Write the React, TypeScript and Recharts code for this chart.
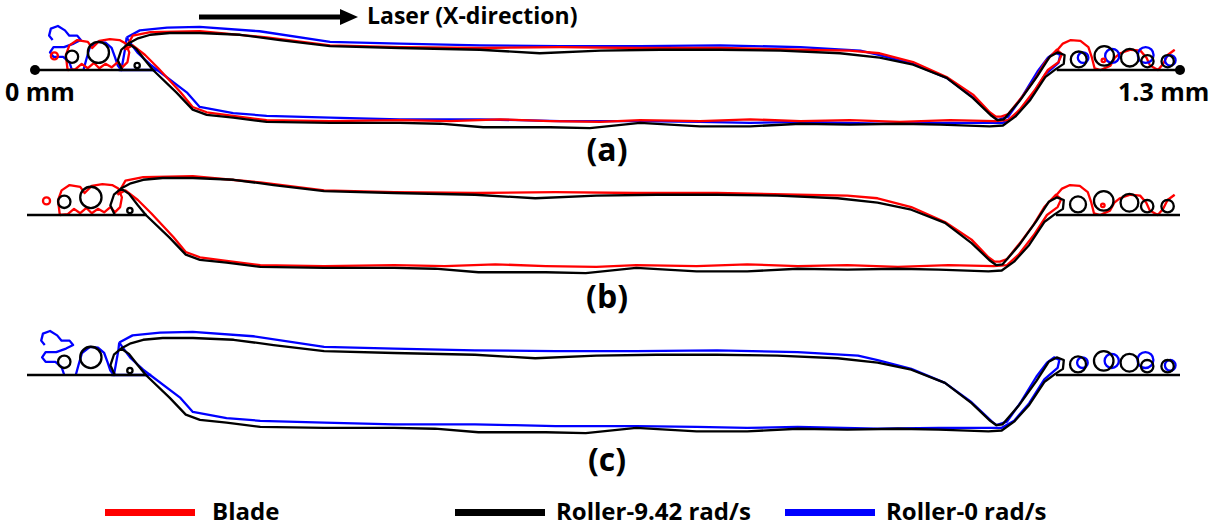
import { ComposedChart, Line, Scatter, XAxis, YAxis } from 'recharts';

// x: distance along the track in µm (0 mm .. 1.3 mm), y: height above the powder-bed surface in µm
type XY = [number, number];
type XYR = [number, number, number];

const bladeTrack: XY[] = [
  [102, 23], [111, 39], [131, 43], [187, 44], [263, 37], [335, 28], [414, 26], [505, 25], [596, 26],
  [687, 25], [778, 25], [869, 23], [925, 22], [959, 19], [997, 9], [1035, -8], [1065, -28], [1084, -48],
  [1091, -53], [1097, -53], [1105, -50], [1121, -30], [1135, -11], [1147, 9], [1160, 23], [1166, 18], [1162, 9],
  [1150, 0], [1135, -23], [1118, -45], [1105, -57], [1090, -58], [1039, -57], [982, -59], [925, -57],
  [869, -58], [812, -56], [755, -58], [687, -57], [642, -59], [585, -58], [528, -56], [471, -58],
  [414, -57], [335, -58], [263, -57], [225, -52], [195, -48], [179, -42], [165, -25], [140, 2],
  [125, 17], [111, 28], [102, 23],
];
const rollerTrack: XY[] = [
  [99, 0], [94, 11], [98, 23], [106, 30], [117, 36], [131, 40], [153, 42], [187, 42], [233, 40],
  [278, 34], [335, 27], [414, 25], [505, 23], [573, 19], [642, 22], [710, 23], [778, 23], [846, 22],
  [914, 19], [959, 14], [997, 6], [1035, -9], [1065, -32], [1086, -52], [1093, -57], [1100, -56],
  [1118, -35], [1138, -7], [1152, 15], [1161, 20], [1169, 17], [1168, 7], [1159, 1], [1147, -8],
  [1130, -34], [1113, -53], [1099, -63], [1084, -64], [1028, -62], [982, -61], [925, -62], [869, -61],
  [812, -64], [755, -64], [687, -60], [630, -66], [585, -65], [509, -65], [460, -61], [414, -60],
  [335, -60], [263, -59], [225, -54], [195, -51], [179, -45], [161, -26], [134, 0], [125, 11],
  [115, 24], [106, 30],
];
const roller0Track: XY[] = [
  [104, 37], [119, 45], [150, 48], [187, 49], [255, 44], [335, 32], [414, 30], [505, 28], [596, 27],
  [687, 27], [778, 28], [869, 26], [937, 22], [959, 17], [997, 7], [1035, -9], [1065, -31], [1088, -53],
  [1093, -57], [1105, -53], [1121, -30], [1138, -2], [1150, 14], [1158, 20], [1164, 17], [1162, 8],
  [1147, -5], [1130, -32], [1113, -52], [1099, -60], [1084, -60], [1028, -60], [959, -61], [869, -59],
  [812, -60], [755, -59], [687, -58], [596, -58], [550, -57], [505, -56], [414, -56], [335, -54],
  [263, -52], [225, -49], [187, -42], [173, -26], [131, 6], [117, 19], [108, 31], [104, 37],
];

// powder on both sides of the track
const bladePowderLeft: XY[] = [
  [37, 0], [35, 17], [39, 28], [48, 34], [60, 32], [65, 25], [73, 33], [85, 35], [96, 34], [103, 30],
  [107, 20], [105, 9], [99, 3], [94, 9], [87, 3], [80, 7], [73, 2], [67, 8], [60, 2], [53, 7], [46, 1], [37, 0],
];
const bladePowderRight: XY[] = [
  [1161, 23], [1167, 30], [1176, 34], [1187, 33], [1196, 26], [1200, 14], [1203, 2], [1210, 0],
  [1221, 5], [1226, 14], [1232, 19], [1244, 23], [1255, 22], [1262, 14], [1266, 5], [1275, 0],
  [1281, 7], [1286, 17], [1294, 23],
];
const roller0PowderLeft: XY[] = [
  [42, 0], [39, 9], [32, 15], [21, 15], [17, 20], [21, 26], [33, 26], [44, 30], [52, 34], [48, 39],
  [39, 39], [34, 45], [26, 50], [18, 47], [16, 39], [20, 34],
];
const roller0PowderMid: XY[] = [
  [55, 0], [58, 11], [62, 25], [71, 32], [80, 31], [87, 25], [91, 14], [94, 5], [98, 0], [100, 11],
  [103, 28], [104, 37],
];
const bedLeft: XY[] = [[0, 0], [135, 0]];
const bedRight: XY[] = [[1160, 0], [1300, 0]];
const roller0BedLeft: XY[] = [[95, 0], [140, 0]];

// particles: centre x, centre y, radius (µm)
const bladeParticles: XYR[] = [[22, 16, 4], [1213, 11, 2]];
const rollerParticles: XYR[] = [
  [42, 15, 7], [72, 20, 12], [116, 5, 3], [1185, 12, 9], [1214, 16, 11], [1243, 14, 10], [1263, 10, 7], [1286, 10, 7],
];
const roller0Particles: XYR[] = [[1190, 14, 6], [1223, 16, 8], [1261, 17, 9], [1289, 11, 6]];
const endMarks: XY[] = [[0, 0], [1300, 0]];

const RED = '#ff0000';
const BLACK = '#000000';
const BLUE = '#0000ff';

const W = 1225;
const H = 130;
const BED_Y = 60;
const PX_PER_UM = 1145 / 1300;
const Y_MAX = BED_Y / PX_PER_UM;
const Y_MIN = -(H - BED_Y) / PX_PER_UM;
const STROKE = 2.3;

const pts = (a: XY[]) => a.map(([x, y]) => ({ x, y }));
const rings = (a: XYR[]) => a.map(([x, y, r]) => ({ x, y, r }));

type Series = { color: string; paths: XY[][]; particles: XYR[] };
const blade: Series = { color: RED, paths: [bladeTrack, bladePowderLeft, bladePowderRight], particles: bladeParticles };
const roller: Series = { color: BLACK, paths: [rollerTrack, bedLeft, bedRight], particles: rollerParticles };
const roller0: Series = {
  color: BLUE,
  paths: [roller0Track, roller0PowderLeft, roller0PowderMid, roller0BedLeft],
  particles: roller0Particles,
};

function Panel({ top, left, plot, series, marks }: { top: number; left: number; plot: number; series: Series[]; marks?: boolean }) {
  const k = plot / 1300;
  return (
    <div style={{ position: 'absolute', left: 0, top }}>
      <ComposedChart width={W} height={H} margin={{ top: 0, bottom: 0, left, right: W - left - plot }}>
        <XAxis type="number" dataKey="x" domain={[0, 1300]} hide />
        <YAxis type="number" dataKey="y" domain={[Y_MIN, Y_MAX]} hide />
        {series.map((s, i) =>
          s.paths.map((p, j) => (
            <Line
              key={`l${i}-${j}`}
              data={pts(p)}
              dataKey="y"
              type="linear"
              stroke={s.color}
              strokeWidth={STROKE}
              strokeLinejoin="round"
              dot={false}
              activeDot={false}
              isAnimationActive={false}
            />
          ))
        )}
        {series.map((s, i) => (
          <Scatter
            key={`s${i}`}
            data={rings(s.particles)}
            isAnimationActive={false}
            shape={(p: any) => (
              <circle cx={p.cx} cy={p.cy} r={p.payload.r * k} fill="none" stroke={s.color} strokeWidth={STROKE} />
            )}
          />
        ))}
        {marks && (
          <Scatter
            data={pts(endMarks)}
            isAnimationActive={false}
            shape={(p: any) => <circle cx={p.cx} cy={p.cy} r={5} fill={BLACK} />}
          />
        )}
      </ComposedChart>
    </div>
  );
}

const text = (l: number, t: number, size: number, s: string, w?: number) => (
  <div
    style={{
      position: 'absolute',
      left: l,
      top: t,
      width: w,
      textAlign: w ? 'center' : 'left',
      fontSize: size,
      lineHeight: 1,
      whiteSpace: 'nowrap',
    }}
  >
    {s}
  </div>
);

const legendItems = [
  { label: 'Blade', color: RED, x: 105, gap: 107 },
  { label: 'Roller-9.42 rad/s', color: BLACK, x: 455, gap: 101 },
  { label: 'Roller-0 rad/s', color: BLUE, x: 785, gap: 101 },
];

export default function App() {
  return (
    <div
      style={{
        position: 'absolute',
        left: 0,
        top: 0,
        width: W,
        height: 529,
        background: '#fff',
        fontFamily: '"Open Sans", sans-serif',
        fontWeight: 700,
        color: '#000',
      }}
    >
      <Panel top={10} left={35} plot={1145} series={[roller0, blade, roller]} marks />
      <Panel top={155} left={27} plot={1153} series={[blade, roller]} />
      <Panel top={315} left={27} plot={1153} series={[roller0, roller]} />

      <svg width={W} height={40} style={{ position: 'absolute', left: 0, top: 0 }}>
        <line x1={199} y1={17} x2={342} y2={17} stroke={BLACK} strokeWidth={5} />
        <polygon points="340,9 358,17 340,25" fill={BLACK} />
      </svg>
      {text(367, 4, 23, 'Laser (X-direction)')}
      {text(5, 79, 25, '0 mm')}
      {text(1118, 79, 25, '1.3 mm')}
      {text(557, 133, 32, '(a)', 100)}
      {text(557, 280, 32, '(b)', 100)}
      {text(557, 443, 32, '(c)', 100)}

      {legendItems.map((it) => (
        <div key={it.label}>
          <div style={{ position: 'absolute', left: it.x, top: 509, width: 90, height: 7, background: it.color }} />
          {text(it.x + it.gap, 499, 24, it.label)}
        </div>
      ))}
    </div>
  );
}
